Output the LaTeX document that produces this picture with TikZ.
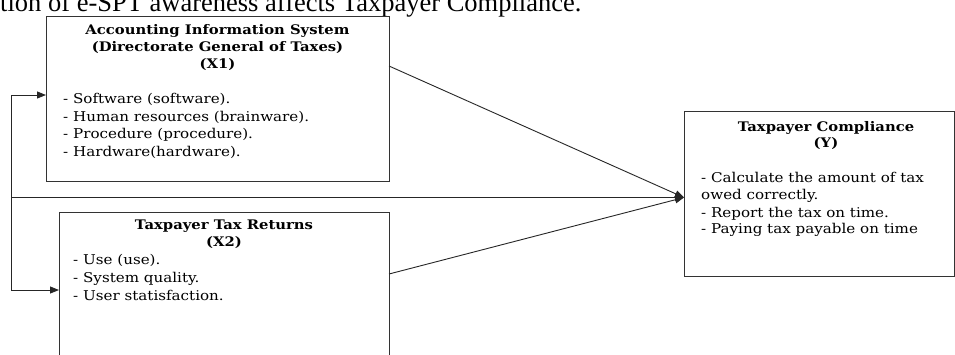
\documentclass[tikz,border=0pt]{standalone}
\usepackage{fontspec}
\setmainfont{DejaVu Serif}
\newfontfamily\boxfont[FakeStretch=1.12]{DejaVu Serif}
\newfontfamily\capfont{Liberation Serif}
\usetikzlibrary{arrows.meta}
\begin{document}
\begin{tikzpicture}[x=1pt,y=-1pt,
  box/.style={draw=black!80, line width=1pt, fill=white, inner sep=0pt, anchor=north west},
  conn/.style={draw=black!85, line width=0.9pt},
  arr/.style={conn, -{Triangle[length=9pt,width=7pt]}},
  ttl/.style={font=\boxfont\fontsize{13.2}{15}\selectfont\bfseries, anchor=base, inner sep=0pt},
  itm/.style={font=\boxfont\fontsize{13.5}{15}\selectfont, anchor=base west, inner sep=0pt}]
\clip (0,0) rectangle (955,354);
\fill[white] (0,0) rectangle (955,354);
\node[anchor=base west, inner sep=0pt, font=\capfont\fontsize{26.5}{30}\selectfont] (cap) at (0,11) {tion of e-SPT awareness affects Taxpayer Compliance.};

\node[box, minimum width=343pt, minimum height=165pt] (b1) at (46,16) {};
\node[box, minimum width=330pt, minimum height=200pt] (b2) at (59,212) {};
\node[box, minimum width=270pt, minimum height=165pt] (b3) at (684,111) {};

% box 1 text
\node[ttl] (b1t1) at (217.5,34) {Accounting Information System};
\node[ttl] (b1t2) at (217.5,51.5) {(Directorate General of Taxes)};
\node[ttl] (b1t3) at (217.5,68) {(X1)};
\node[itm] (b1i1) at (63,103.5) {- Software (software).};
\node[itm] (b1i2) at (63,121) {- Human resources (brainware).};
\node[itm] (b1i3) at (63,138.5) {- Procedure (procedure).};
\node[itm] (b1i4) at (63,156) {- Hardware(hardware).};

% box 2 text
\node[ttl] (b2t1) at (224,229) {Taxpayer Tax Returns};
\node[ttl] (b2t2) at (224,246) {(X2)};
\node[itm] (b2i1) at (73,264) {- Use (use).};
\node[itm] (b2i2) at (73,282) {- System quality.};
\node[itm] (b2i3) at (73,300) {- User statisfaction.};

% box Y text
\node[ttl] (b3t1) at (826,131) {Taxpayer Compliance};
\node[ttl] (b3t2) at (826,147) {(Y)};
\node[itm] (b3i1) at (701,182) {- Calculate the amount of tax};
\node[itm] (b3i2) at (701,199) {owed correctly.};
\node[itm] (b3i3) at (701,217) {- Report the tax on time.};
\node[itm] (b3i4) at (701,233) {- Paying tax payable on time};

% connectors
\coordinate (fb) at (11,197.5);
\coordinate (b1in) at (46,95);
\coordinate (b2in) at (59,290);
\coordinate (yin) at (684,197.5);
\coordinate (b1out) at (389,66);
\coordinate (b2out) at (389,274);
\draw[arr] (fb) |- (b1in);
\draw[arr] (fb) |- (b2in);
\draw[arr] (fb) -- (yin);
\draw[arr] (b1out) -- (yin);
\draw[arr] (b2out) -- (yin);
\end{tikzpicture}
\end{document}
